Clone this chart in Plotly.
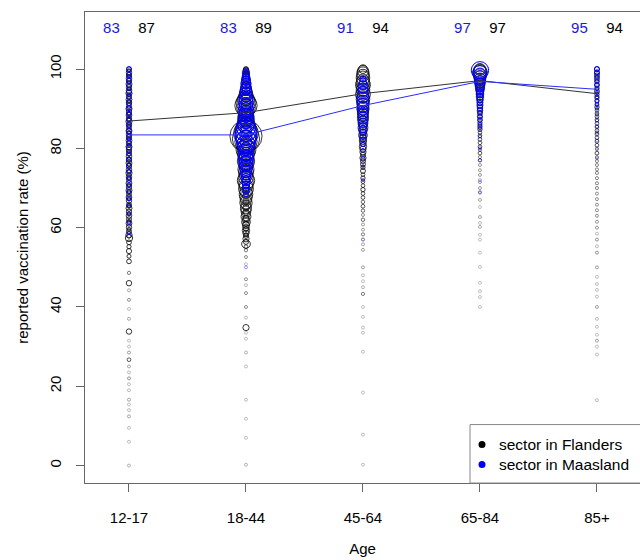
import plotly.graph_objects as go

age_groups = ["12-17", "18-44", "45-64", "65-84", "85+"]

# mean reported vaccination rate per age group
flanders_mean = [86.9, 89.0, 93.8, 97.1, 93.8]
maasland_mean = [83.4, 83.4, 90.8, 96.9, 94.9]

legend_labels = ["sector in Flanders", "sector in Maasland"]

# sector-level rates and population (per age group)
fl_rate_1 = [100, 99.2, 98.5, 97.7, 97, 96.2, 95.4, 94.6, 93.9, 93.1, 92.3, 91.5, 90.8, 90, 89.2, 88.4, 87.6, 86.8, 86, 85.2, 84.4, 83.6, 82.8, 82, 81.2, 80.4, 79.6, 78.8, 78, 77.1, 76.3, 75.5, 74.6, 73.8, 72.9, 72.1, 71.2, 70.3, 69.4, 68.6, 67.7, 66.8, 65.8, 64.9, 64, 63, 62.1, 61.1, 60.1, 59.1, 58.2, 57.4, 56.3, 55.2, 54.1, 52.8, 51.5, 48.6, 46, 44.2, 41.8, 39.5, 37, 33.8, 31.5, 30, 28.5, 26.7, 25, 23.5, 22, 20.5, 19, 16.6, 15.4, 14, 12.4, 9.5, 6, 0,
             99.6, 98.1, 96.6, 95.0, 93.5, 91.9, 90.4, 88.8, 87.2, 85.6, 84.0, 82.4, 80.8, 79.2, 77.5, 75.9, 74.2, 72.5, 70.7, 69.0, 67.2, 65.4, 63.5, 61.6, 59.6, 57.8]
fl_pop_1 = [150, 200, 180, 220, 170, 240, 190, 210, 260, 180, 230, 200, 170, 250, 190, 220, 180, 260, 200, 170, 240, 210, 190, 230, 180, 250, 200, 170, 220, 190, 240, 180, 210, 260, 200, 170, 230, 190, 250, 180, 220, 200, 170, 240, 190, 210, 180, 230, 200, 170, 260, 370, 150, 120, 180, 110, 150, 70, 200, 45, 60, 30, 45, 200, 35, 25, 50, 90, 45, 25, 55, 20, 35, 45, 25, 35, 45, 20, 30, 40,
            100, 120, 90, 110, 100, 120, 90, 110, 100, 120, 90, 110, 100, 120, 90, 110, 100, 120, 90, 110, 100, 120, 90, 110, 100, 90]
ma_rate_1 = [100, 98.6, 97.1, 95.8, 94.2, 92.9, 91.4, 90.1, 88.6, 87.2, 85.9, 84.4, 83, 81.5, 80.2, 78.6, 77.2, 75.6, 74.1, 72.5, 70.8, 69.2, 67.4, 65.6, 63.5, 61.2, 58.7]
ma_pop_1 = [160, 140, 180, 150, 170, 130, 160, 150, 140, 170, 130, 160, 150, 140, 170, 130, 150, 160, 140, 130, 150, 120, 140, 120, 110, 100, 90]

fl_rate_2 = [100, 99.5, 99, 98.3, 97.6, 97, 96.3, 95.6, 95, 94.3, 93.6, 92.9, 92.2, 91.5, 90.8, 90.1, 89.4, 88.7, 88, 87.3, 86.6, 85.9, 85.2, 84.5, 83.8, 83.1, 82.4, 81.7, 81, 80.3, 79.6, 78.9, 78.2, 77.5, 76.8, 76.1, 75.4, 74.7, 74, 73.3, 72.6, 71.9, 71.2, 70.5, 69.8, 69.1, 68.4, 67.7, 67, 66.3, 65.6, 64.9, 64.2, 63.5, 62.8, 62.1, 61.4, 60.7, 60, 59.3, 58.6, 57.9, 57.2, 56.4, 55.9, 55.2, 54.3, 52.6, 50.8, 47, 45.5, 43.5, 40, 37.3, 34.8, 33.5, 32, 28.5, 25, 16.6, 11.8, 7, 0.2,
             99.8, 98.7, 97.3, 96.0, 94.6, 93.2, 91.8, 90.4, 89.0, 87.6, 86.2, 84.8, 83.4, 82.0, 80.6, 79.2, 77.8, 76.4, 75.0, 73.6, 72.2, 70.8, 69.4, 68.0, 66.6, 65.2, 63.8, 62.4, 61.0, 59.6, 58.2]
fl_pop_2 = [165, 260, 370, 370, 505, 505, 660, 660, 840, 1030, 1250, 1490, 2030, 2650, 3350, 2330, 1750, 1490, 1750, 1490, 2030, 1750, 2650, 3350, 4140, 6990, 5000, 3350, 2330, 2030, 2650, 2030, 1750, 1490, 2030, 1490, 1250, 1750, 1490, 1250, 1490, 2030, 1490, 1250, 1490, 1030, 1250, 1030, 840, 1030, 660, 840, 660, 505, 660, 370, 505, 370, 260, 370, 260, 165, 260, 165, 505, 93, 70, 60, 25, 60, 35, 60, 60, 35, 260, 35, 25, 40, 25, 25, 25, 25, 40,
            200, 260, 300, 350, 400, 450, 500, 550, 500, 450, 500, 550, 600, 550, 500, 450, 500, 450, 400, 450, 400, 350, 300, 300, 250, 250, 200, 200, 150, 150, 120]
ma_rate_2 = [99.5, 98.8, 98, 97.2, 96.4, 95.6, 94.8, 94, 93.2, 92.4, 91.6, 90.8, 90, 89.2, 88.4, 87.6, 86.8, 86, 85.2, 84.4, 83.6, 82.8, 82, 81.2, 80.4, 79.6, 78.8, 78, 77.2, 76.4, 75.6, 74.8, 74, 73.2, 72.4, 71.6, 70.8, 70, 69.2, 68.4, 50,
             99.1, 97.6, 96.0, 94.4, 92.8, 91.2, 89.6, 88.0, 86.4, 84.8, 83.2, 81.6, 80.0, 78.4, 76.8, 75.2, 73.6, 72.0, 70.4]
ma_pop_2 = [165, 260, 370, 505, 660, 660, 840, 1030, 1030, 1250, 1490, 1250, 1490, 1250, 1490, 1750, 1490, 2030, 2330, 3000, 3350, 3000, 2650, 2030, 1750, 1490, 1490, 1250, 1490, 1250, 1030, 1030, 840, 660, 660, 505, 370, 370, 260, 165, 45,
            150, 250, 350, 450, 550, 650, 700, 750, 800, 900, 1000, 900, 800, 700, 600, 500, 400, 300, 200]

fl_rate_3 = [100, 99.5, 99, 98.4, 97.8, 97.2, 96.6, 96, 95.4, 94.8, 94.2, 93.6, 93, 92.4, 91.8, 91.2, 90.6, 90, 89.4, 88.8, 88.2, 87.6, 87, 86.4, 85.8, 85.2, 84.6, 84, 83.3, 82.6, 81.9, 81.2, 80.5, 79.8, 79.1, 78.4, 77.6, 76.8, 76, 75.2, 74.3, 73.4, 72.5, 71.6, 70.6, 69.6, 68.6, 67.6, 66.5, 65.4, 64.3, 63.2, 62, 60.8, 59.5, 58.3, 57, 55.8, 54.4, 50, 48, 46.5, 45, 43.3, 40, 37.5, 34.8, 33.5, 28.7, 18.4, 7.8, 0.2]
fl_pop_3 = [505, 840, 1030, 1030, 1250, 1030, 1250, 1490, 1030, 1250, 1030, 1490, 1030, 1250, 1030, 1030, 840, 1030, 840, 840, 660, 840, 660, 660, 505, 660, 505, 370, 505, 370, 370, 260, 370, 260, 260, 165, 260, 165, 165, 125, 165, 93, 125, 93, 93, 125, 93, 93, 80, 93, 80, 60, 80, 50, 50, 70, 45, 45, 50, 50, 25, 25, 40, 70, 25, 25, 25, 30, 25, 25, 25, 25]
ma_rate_3 = [97.5, 96.8, 96, 95.2, 94.4, 93.6, 92.8, 92, 91.2, 90.4, 89.6, 88.8, 88, 87.2, 86.4, 85.6, 84.8, 84, 83.2, 82.2, 81, 79.5, 77.5, 75.5, 72, 57]
ma_pop_3 = [260, 370, 505, 660, 660, 840, 840, 840, 840, 840, 660, 660, 660, 505, 505, 370, 370, 260, 260, 165, 125, 93, 93, 65, 65, 30]

fl_rate_4 = [100, 99.5, 99, 98.5, 98, 97.5, 97, 96.5, 96, 95.4, 94.8, 94.2, 93.6, 93, 92.3, 91.6, 90.9, 90.2, 89.5, 88.8, 88, 87.2, 86.4, 85.6, 84.8, 84, 83.2, 82.3, 81.4, 80.4, 79.6, 78.8, 77.8, 77, 75.8, 74.5, 73.3, 71.5, 70, 68.8, 67, 65.2, 62.7, 61.2, 60.2, 58.2, 57, 53.7, 50.1, 46.1, 44, 42.5, 40]
fl_pop_4 = [840, 1250, 1490, 1030, 1030, 840, 840, 660, 660, 505, 505, 370, 370, 370, 260, 260, 260, 210, 210, 165, 165, 165, 125, 125, 125, 93, 93, 93, 93, 93, 65, 93, 65, 80, 55, 55, 55, 55, 55, 55, 50, 30, 50, 30, 45, 30, 30, 30, 30, 30, 15, 15, 30]
ma_rate_4 = [99.7, 99.2, 98.7, 98.2, 97.6, 97, 96.4, 95.8, 95.2, 94.5, 93.8, 93, 92.2, 91.4, 90.6, 89.8, 89, 88, 87, 86, 85.2, 83, 80, 77, 72, 69]
ma_pop_4 = [2030, 1250, 1030, 840, 840, 660, 660, 505, 505, 370, 370, 260, 260, 165, 165, 165, 125, 125, 93, 93, 93, 65, 65, 41, 41, 41]

fl_rate_5 = [100, 99.2, 98.4, 97.6, 96.8, 96, 95.2, 94.4, 93.6, 92.8, 92, 91.2, 90.4, 89.6, 88.8, 88, 87.2, 86.3, 85.4, 84.5, 83.6, 82.7, 81.8, 80.8, 79.8, 78.8, 77.8, 76.8, 75.8, 74.7, 73.8, 72.5, 71.2, 70, 68.6, 67.2, 65.8, 64.4, 63, 61.5, 60, 58.5, 57, 55.3, 53.7, 50, 47.6, 45.8, 44.3, 42.6, 40, 37, 35, 33, 31.5, 30, 28, 16.5]
fl_pop_5 = [165, 165, 165, 165, 125, 165, 125, 165, 125, 125, 125, 93, 125, 93, 93, 93, 93, 93, 93, 93, 93, 93, 93, 93, 65, 93, 65, 65, 65, 65, 65, 65, 65, 65, 60, 60, 60, 60, 60, 55, 55, 35, 55, 35, 55, 50, 30, 30, 30, 30, 50, 30, 30, 30, 50, 30, 15, 35]
ma_rate_5 = [100, 99, 98, 97, 96, 95, 94, 93, 92, 91, 90, 88.5, 87, 85.5, 84, 82, 80, 77.5]
ma_pop_5 = [165, 165, 125, 125, 125, 93, 93, 93, 93, 93, 65, 65, 65, 65, 65, 41, 41, 41]

fl_rates = [fl_rate_1, fl_rate_2, fl_rate_3, fl_rate_4, fl_rate_5]
fl_pops = [fl_pop_1, fl_pop_2, fl_pop_3, fl_pop_4, fl_pop_5]
ma_rates = [ma_rate_1, ma_rate_2, ma_rate_3, ma_rate_4, ma_rate_5]
ma_pops = [ma_pop_1, ma_pop_2, ma_pop_3, ma_pop_4, ma_pop_5]


def flatten(rates, pops):
    xs, ys, ss = [], [], []
    for i, (r, p) in enumerate(zip(rates, pops)):
        xs += [i + 1] * len(r)
        ys += r
        ss += p
    return xs, ys, ss


FONT = "Liberation Sans, Arial, sans-serif"
FS = 15
SREF = 13.5


def fade(pops):
    # tiny circles render faint, as anti-aliased points do
    return [min(1.0, max(0.3, p / 110.0)) for p in pops]


fig = go.Figure()

fx, fy, fs = flatten(fl_rates, fl_pops)
fig.add_trace(go.Scatter(
    x=fx, y=fy, mode="markers", showlegend=False, hoverinfo="skip",
    marker=dict(symbol="circle-open", size=fs, sizemode="area", sizeref=SREF, sizemin=1.5,
                opacity=fade(fs), color="#111111", line=dict(width=0.85, color="#111111")),
))
mx, my, ms = flatten(ma_rates, ma_pops)
fig.add_trace(go.Scatter(
    x=mx, y=my, mode="markers", showlegend=False, hoverinfo="skip",
    marker=dict(symbol="circle-open", size=ms, sizemode="area", sizeref=SREF, sizemin=1.5,
                opacity=fade(ms), color="blue", line=dict(width=1, color="blue")),
))

xs = list(range(1, len(age_groups) + 1))
fig.add_trace(go.Scatter(x=xs, y=flanders_mean, mode="lines", showlegend=False,
                         line=dict(color="#333333", width=1)))
fig.add_trace(go.Scatter(x=xs, y=maasland_mean, mode="lines", showlegend=False,
                         line=dict(color="#2b2bff", width=1)))

# mean labels at the top
fig.add_trace(go.Scatter(x=[x - 0.15 for x in xs], y=[110] * 5, mode="text",
                         text=[f"{round(v)}" for v in maasland_mean], showlegend=False,
                         textfont=dict(color="#1a1adb", size=FS, family=FONT)))
fig.add_trace(go.Scatter(x=[x + 0.15 for x in xs], y=[110] * 5, mode="text",
                         text=[f"{round(v)}" for v in flanders_mean], showlegend=False,
                         textfont=dict(color="black", size=FS, family=FONT)))

# hand-drawn legend box (R style); plot area: x 85..640, y 12..483.5
PW, PH = 555.0, 471.5
shapes = [dict(type="rect", xref="paper", yref="paper",
               x0=(470 - 85) / PW, x1=1.05, y0=0, y1=(483.5 - 425) / PH,
               line=dict(color="#888888", width=1), fillcolor="white", layer="above")]
annotations = []
for lbl, col, ypx in zip(legend_labels, ["black", "blue"], [445, 465]):
    yp = (483.5 - ypx) / PH
    shapes.append(dict(type="circle", xref="paper", yref="paper",
                       xsizemode="pixel", ysizemode="pixel", xanchor=(482 - 85) / PW, yanchor=yp,
                       x0=-3.5, x1=3.5, y0=-3.5, y1=3.5,
                       fillcolor=col, line=dict(color=col, width=0), layer="above"))
    annotations.append(dict(text=lbl, xref="paper", yref="paper", x=(497 - 85) / PW, y=yp,
                            xanchor="left", yanchor="middle", showarrow=False,
                            font=dict(size=15.5, family=FONT, color="black")))

fig.update_layout(
    width=640, height=560,
    margin=dict(l=85, r=0, t=12, b=76.5),
    paper_bgcolor="white", plot_bgcolor="white",
    font=dict(family=FONT, size=FS, color="black"),
    showlegend=False,
    shapes=shapes, annotations=annotations,
    xaxis=dict(range=[0.624, 5.368], tickvals=xs, ticktext=age_groups,
               showgrid=False, zeroline=False, showline=True, linecolor="#666666",
               linewidth=1, mirror=True, ticks="outside", ticklen=8, tickcolor="#666666",
               ticklabelstandoff=13,
               title=dict(text="Age", standoff=18, font=dict(size=FS))),
    yaxis=dict(range=[-4.4, 114.4], tickvals=[0, 20, 40, 60, 80, 100],
               showgrid=False, zeroline=False, showline=True, linecolor="#666666",
               linewidth=1, ticks="outside", ticklen=8, tickcolor="#666666",
               tickangle=-90, ticklabelstandoff=9,
               title=dict(text="reported vaccination rate (%)", standoff=14, font=dict(size=FS))),
)

fig.write_html("out.html", config={"displayModeBar": False},
               post_script="document.body.style.margin='0';document.body.style.overflow='hidden';")
